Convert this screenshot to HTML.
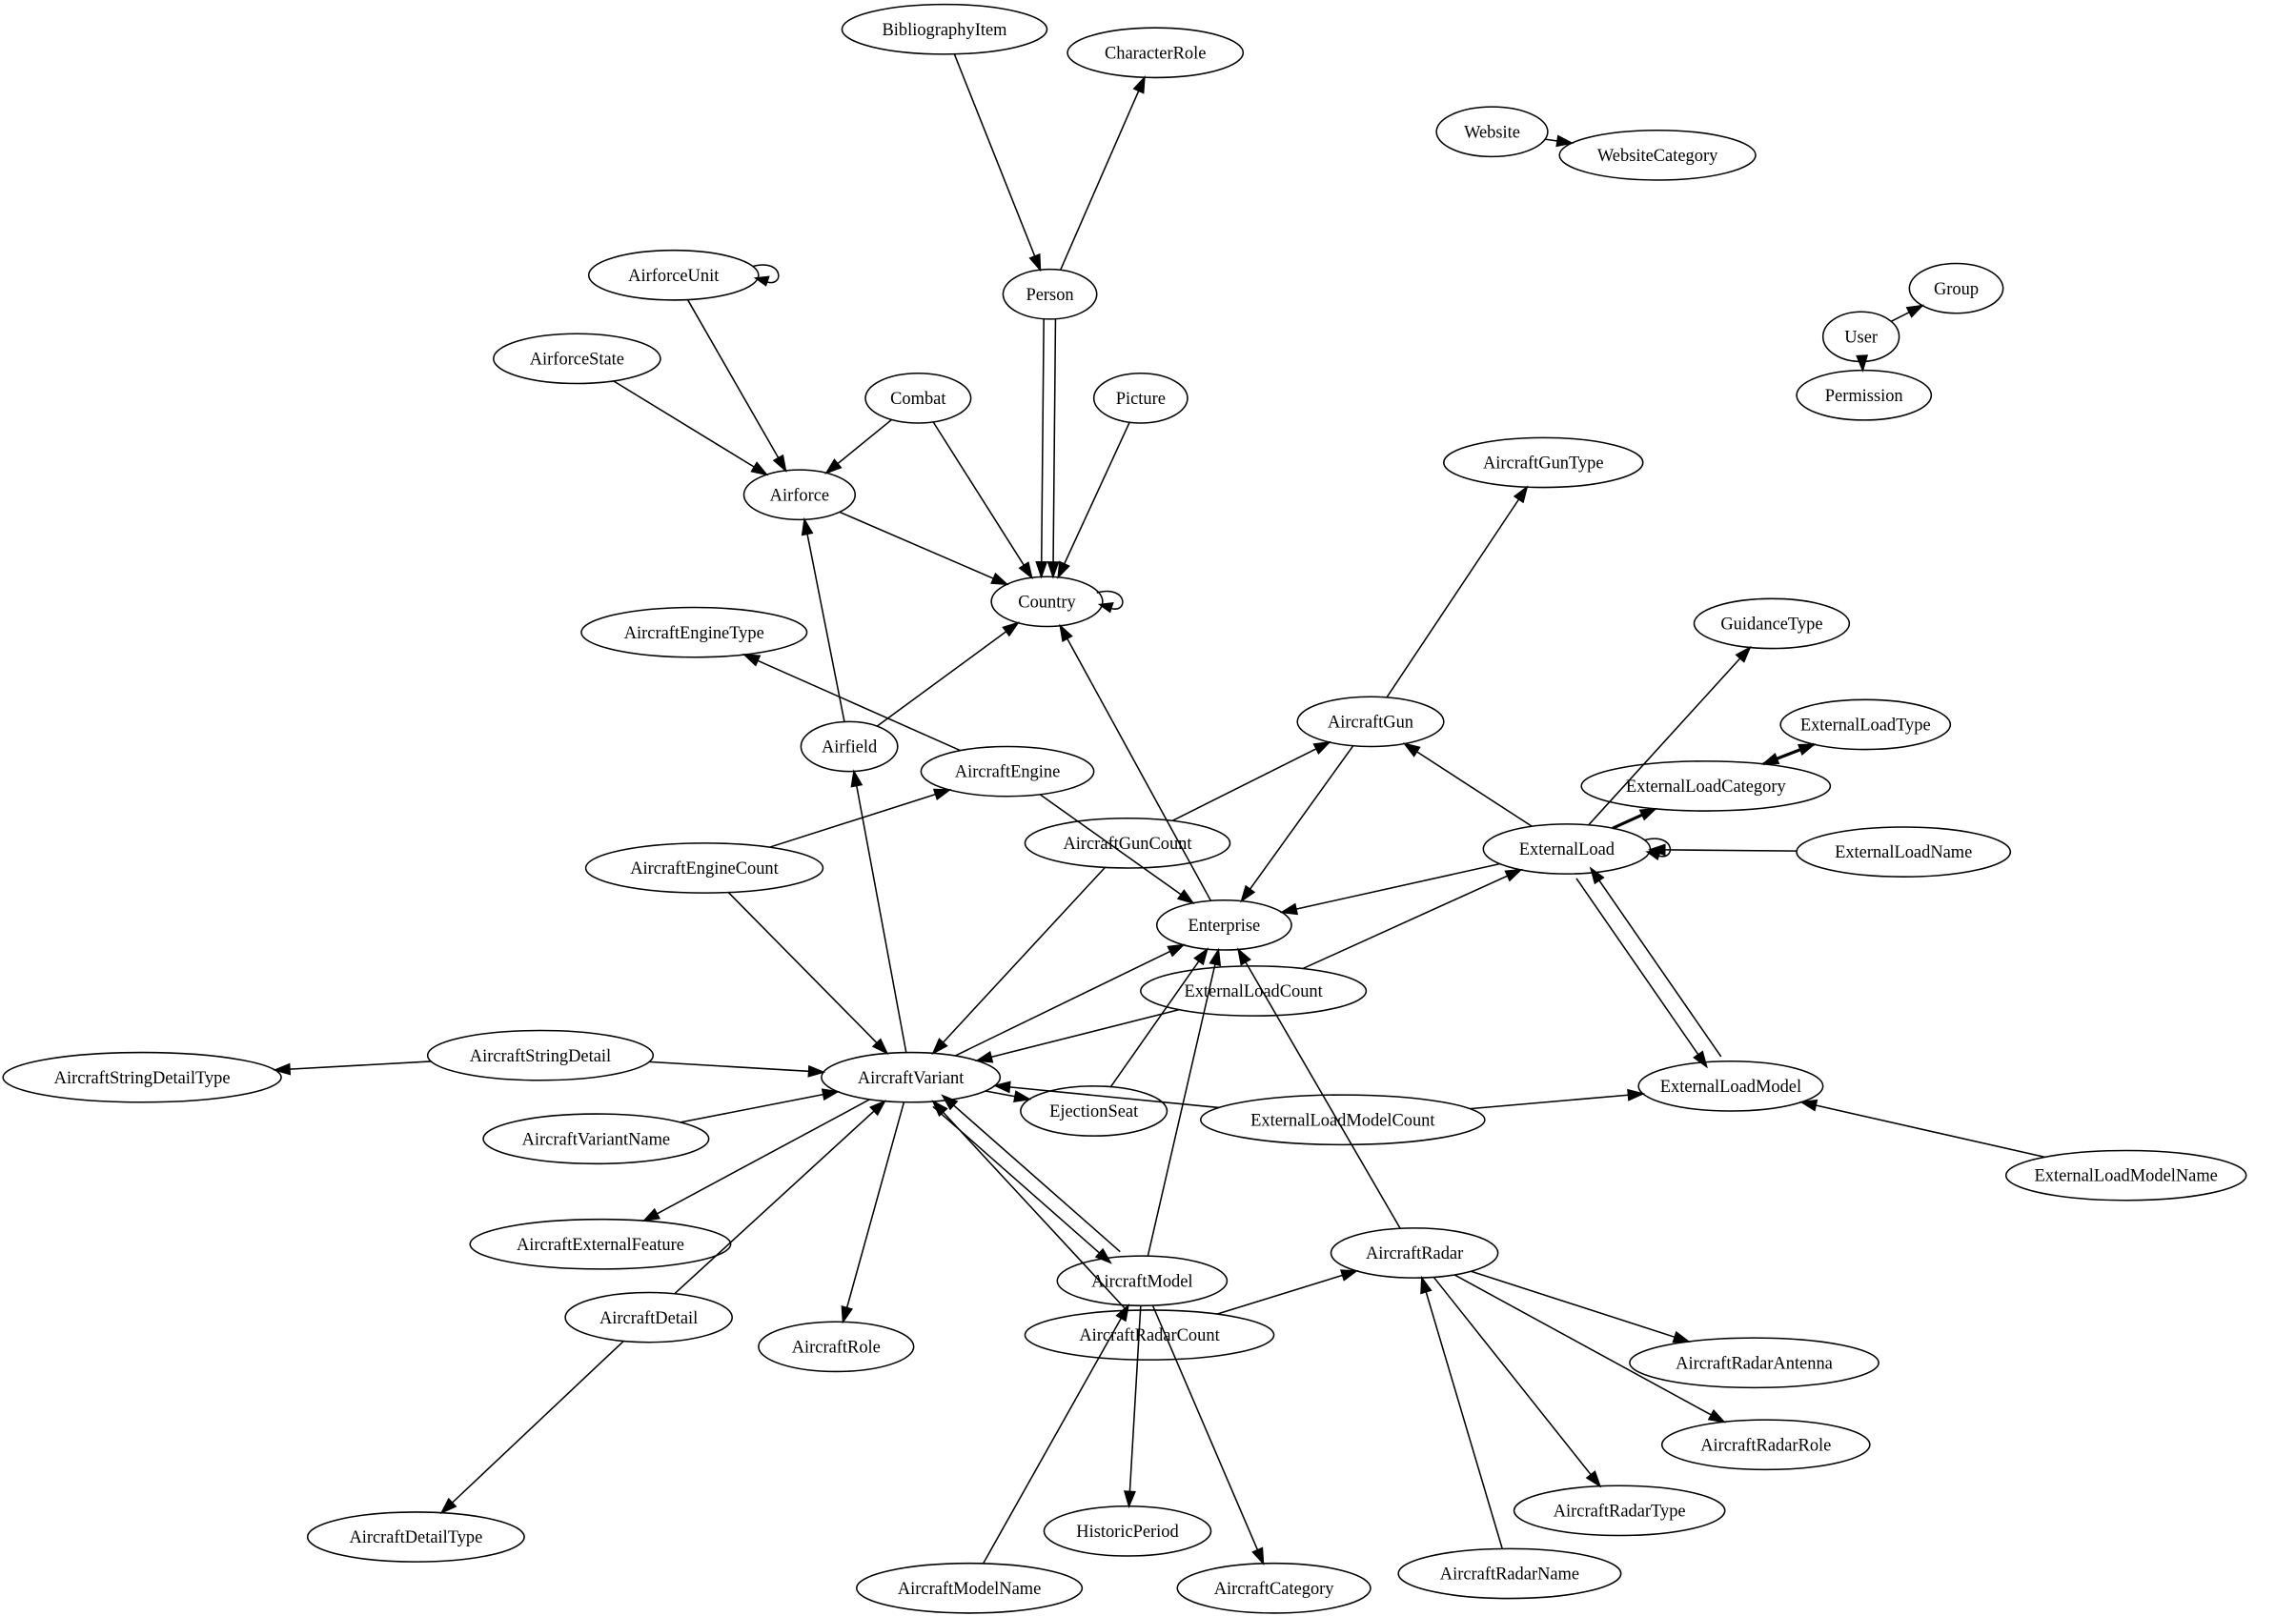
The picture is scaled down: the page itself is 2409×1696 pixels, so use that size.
<!DOCTYPE html>
<html><head><meta charset="utf-8"><style>html,body{margin:0;padding:0;background:#fff}svg{display:block}</style></head>
<body>
<svg id="g" xmlns="http://www.w3.org/2000/svg" width="2409" height="1696" viewBox="0 0 1568 1104" font-family="Liberation Serif, serif" font-size="12"></svg>
<script>
const N={
BibliographyItem:[645,20,70],CharacterRole:[789,36,60],Website:[1019,90,38],WebsiteCategory:[1132,106,67],
Group:[1336,197,32],User:[1271,230,26],Permission:[1273,270,46],AirforceUnit:[460,188,58],Person:[717,201,32],
AirforceState:[394,245,57],Combat:[627,272,36],Picture:[779,272,32],Airforce:[546,338,38],AircraftGunType:[1054,316,68],
Country:[715,411,38],AircraftEngineType:[474,432,77],GuidanceType:[1210,426,53],AircraftGun:[936,493,50],
ExternalLoadType:[1274,495,58],Airfield:[580,510,33],AircraftEngine:[688,527,59],ExternalLoadCategory:[1165,537,85],
AircraftGunCount:[770,576,70],ExternalLoad:[1070,580,57],ExternalLoadName:[1300,582,73],AircraftEngineCount:[481,593,81],
Enterprise:[836,632,46],ExternalLoadCount:[856,677,77],AircraftStringDetail:[369,721,77],AircraftStringDetailType:[97,736,95],
AircraftVariant:[622,736,61],EjectionSeat:[747,759,50],ExternalLoadModelCount:[917,765,97],ExternalLoadModel:[1182,742,63],
AircraftVariantName:[407,778,77],ExternalLoadModelName:[1452,803,82],AircraftExternalFeature:[410,850,89],
AircraftRadar:[966,856,57],AircraftModel:[780,875,58],AircraftDetail:[443,900,57],AircraftRadarCount:[785,912,85],
AircraftRole:[571,920,53],AircraftRadarAntenna:[1198,931,85],AircraftRadarRole:[1206,987,71],AircraftRadarType:[1106,1032,72],
AircraftDetailType:[284,1050,74],HistoricPeriod:[770,1046,57],AircraftModelName:[662,1085,77],AircraftCategory:[870,1085,66],
AircraftRadarName:[1031,1075,76]};
const RY=17;
const E=[["BibliographyItem","Person"],["Person","CharacterRole"],["Website","WebsiteCategory"],["User","Group"],["User","Permission"],
["AirforceUnit","Airforce"],["AirforceState","Airforce"],["Combat","Airforce"],["Combat","Country"],["Person","Country",-4],["Person","Country",4],
["Picture","Country"],["Airforce","Country"],["Airfield","Airforce"],["Airfield","Country"],["AircraftEngine","AircraftEngineType"],
["AircraftGun","AircraftGunType"],["AircraftGun","Enterprise"],["Enterprise","Country"],["ExternalLoad","GuidanceType"],
["ExternalLoad","ExternalLoadCategory",0,2],["ExternalLoadCategory","ExternalLoadType",0,2],["ExternalLoadType","ExternalLoadCategory",0,2],
["ExternalLoad","AircraftGun"],["ExternalLoadName","ExternalLoad"],["ExternalLoad","Enterprise"],["ExternalLoad","ExternalLoadModel",6],
["ExternalLoadModel","ExternalLoad",6],["AircraftEngineCount","AircraftEngine"],["AircraftEngineCount","AircraftVariant"],
["AircraftEngine","Enterprise"],["AircraftGunCount","AircraftGun"],["AircraftGunCount","AircraftVariant"],["ExternalLoadCount","ExternalLoad"],
["ExternalLoadCount","AircraftVariant"],["AircraftVariant","Airfield"],["AircraftVariant","Enterprise"],
["AircraftStringDetail","AircraftStringDetailType"],["AircraftStringDetail","AircraftVariant"],["AircraftVariant","EjectionSeat"],
["EjectionSeat","Enterprise"],["ExternalLoadModelCount","AircraftVariant"],["ExternalLoadModelCount","ExternalLoadModel"],
["ExternalLoadModelName","ExternalLoadModel"],["AircraftVariantName","AircraftVariant"],["AircraftVariant","AircraftExternalFeature"],
["AircraftDetail","AircraftVariant"],["AircraftDetail","AircraftDetailType"],["AircraftVariant","AircraftRole"],
["AircraftVariant","AircraftModel",5],["AircraftModel","AircraftVariant",5],["AircraftRadarCount","AircraftVariant"],
["AircraftModel","Enterprise"],["AircraftRadar","Enterprise"],["AircraftRadarCount","AircraftRadar"],
["AircraftRadar","AircraftRadarAntenna"],["AircraftRadar","AircraftRadarRole"],["AircraftRadar","AircraftRadarType"],
["AircraftRadarName","AircraftRadar"],["AircraftModel","HistoricPeriod"],["AircraftModel","AircraftCategory"],
["AircraftModelName","AircraftModel"]];
let s='';
function clip(c,dx,dy){const k=1/Math.sqrt((dx/c[2])**2+(dy/RY)**2);return [c[0]+dx*k,c[1]+dy*k];}
for(const [a,b,off,w] of E){
 const A=N[a],B=N[b];let dx=B[0]-A[0],dy=B[1]-A[1];const L=Math.hypot(dx,dy);
 let ox=0,oy=0;if(off){ox=-dy/L*off;oy=dx/L*off;}
 const p=clip(A,dx,dy),q=clip(B,-dx,-dy);
 const ux=dx/L,uy=dy/L,al=10,aw=3.5;
 const p1=[p[0]+ox,p[1]+oy],q1=[q[0]+ox,q[1]+oy];
 const bx=q1[0]-ux*al,by=q1[1]-uy*al;
 s+=`<line x1="${p1[0]}" y1="${p1[1]}" x2="${bx}" y2="${by}" stroke="#000" stroke-width="${w||1}"/>`;
 s+=`<polygon points="${q1[0]},${q1[1]} ${bx-uy*aw},${by+ux*aw} ${bx+uy*aw},${by-ux*aw}" fill="#000" stroke="#000"/>`;
}
function loop(n){const c=N[n];const x=c[0]+c[2]-2;
 s+=`<path d="M${x-2},${c[1]-6} C${x+20},${c[1]-12} ${x+20},${c[1]+10} ${x+6},${c[1]+4}" fill="none" stroke="#000"/>`;
 s+=`<polygon points="${x},${c[1]+2} ${x+9},${c[1]+1} ${x+7},${c[1]+7}" fill="#000" stroke="#000"/>`;}
loop("AirforceUnit");loop("Country");loop("ExternalLoad");
for(const k in N){const c=N[k];
 s+=`<ellipse cx="${c[0]}" cy="${c[1]}" rx="${c[2]}" ry="${RY}" fill="none" stroke="#000"/>`;
 s+=`<text x="${c[0]}" y="${c[1]+4}" text-anchor="middle">${k}</text>`;}
document.getElementById('g').innerHTML=s;
</script>
</body></html>
